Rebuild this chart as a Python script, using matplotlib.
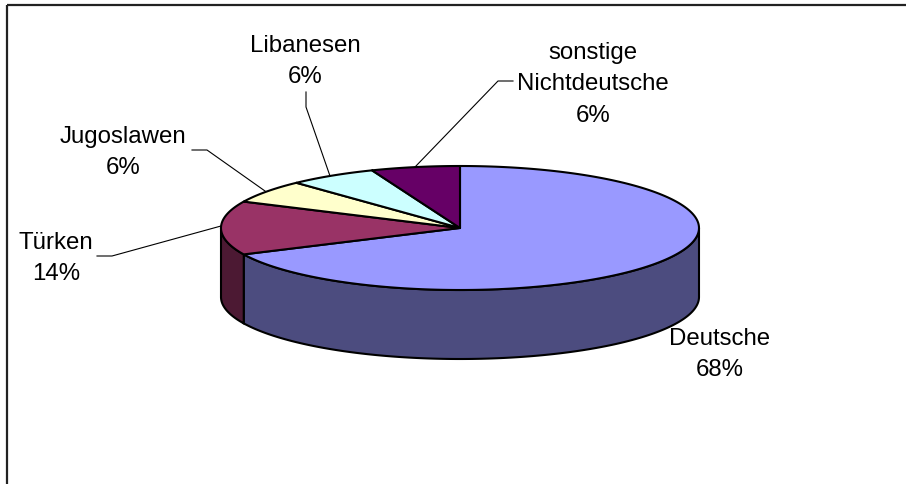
import numpy as np
import matplotlib.pyplot as plt
from matplotlib.patches import Polygon

LABELS = ["Deutsche", "Türken", "Jugoslawen", "Libanesen", "sonstige\nNichtdeutsche"]
VALUES = [68, 14, 6, 6, 6]
TOP_COLORS = ["#9999FF", "#993366", "#FFFFCC", "#CCFFFF", "#660066"]
SIDE_COLORS = ["#4C4C7F", "#4C1933", "#80806A", "#6A8080", "#330033"]

# pie geometry in pixels
CX, CY = 460, 229
RX, RY = 239, 62
DEPTH = 69

# label centre x, baselines of the lines, leader line
LABEL_X = [720, 56, 123, 305, 593]
LABEL_BASE = [345, 249.5, 143.5, 52, 59.5]
LINE_STEP = 31
LEADERS = [None,
           [(97, 257), (112, 257), (221, 227)],
           [(192, 151), (207, 151), (265, 192)],
           [(306, 93), (306, 108), (330, 177)],
           [(513, 82), (498, 82), (415, 168)]]


def arc(t0, t1, dy=0):
    t = np.radians(np.linspace(t0, t1, 200))
    return np.column_stack([CX + RX * np.cos(t), CY - RY * np.sin(t) + dy])


fig = plt.figure(figsize=(9.06, 4.85), dpi=100)
ax = fig.add_axes([0, 0, 1, 1])
ax.set_xlim(0, 906)
ax.set_ylim(485, 0)
ax.axis('off')

plt.rcParams['font.family'] = ['Liberation Sans', 'DejaVu Sans']

total = float(sum(VALUES))
angles = []
start = 90.0
for v in VALUES:
    end = start - 360.0 * v / total
    angles.append((start, end))
    start = end

# front side walls
for (a0, a1), col in zip(angles, SIDE_COLORS):
    for lo, hi in [(-180, 0), (180, 360), (-540, -360)]:
        s, e = max(a1, lo), min(a0, hi)
        if e <= s:
            continue
        pts = np.vstack([arc(s, e), arc(e, s, DEPTH)])
        ax.add_patch(Polygon(pts, closed=True, facecolor=col,
                             edgecolor='black', linewidth=1.5, zorder=2))

# top faces
for (a0, a1), col in zip(angles, TOP_COLORS):
    pts = np.vstack([[CX, CY], arc(a0, a1)])
    ax.add_patch(Polygon(pts, closed=True, facecolor=col,
                         edgecolor='black', linewidth=1.5, zorder=3,
                         joinstyle='round'))

# labels
for lab, v, x, base, lead in zip(LABELS, VALUES, LABEL_X, LABEL_BASE, LEADERS):
    lines = lab.split("\n") + ["%.0f%%" % (v / total * 100)]
    for i, line in enumerate(lines):
        ax.text(x, base + i * LINE_STEP, line, ha='center', va='baseline',
                fontsize=17.3, color='black', zorder=5)
    if lead is not None:
        xs, ys = zip(*lead)
        ax.plot(xs, ys, color='black', linewidth=0.8, zorder=4)

# chart frame (left and top edge)
ax.plot([7, 7], [485, 6], color='#222222', linewidth=1.6, solid_capstyle='butt')
ax.plot([7, 906], [6, 6], color='#222222', linewidth=1.6, solid_capstyle='butt')

fig.savefig('out.png', dpi=100)
